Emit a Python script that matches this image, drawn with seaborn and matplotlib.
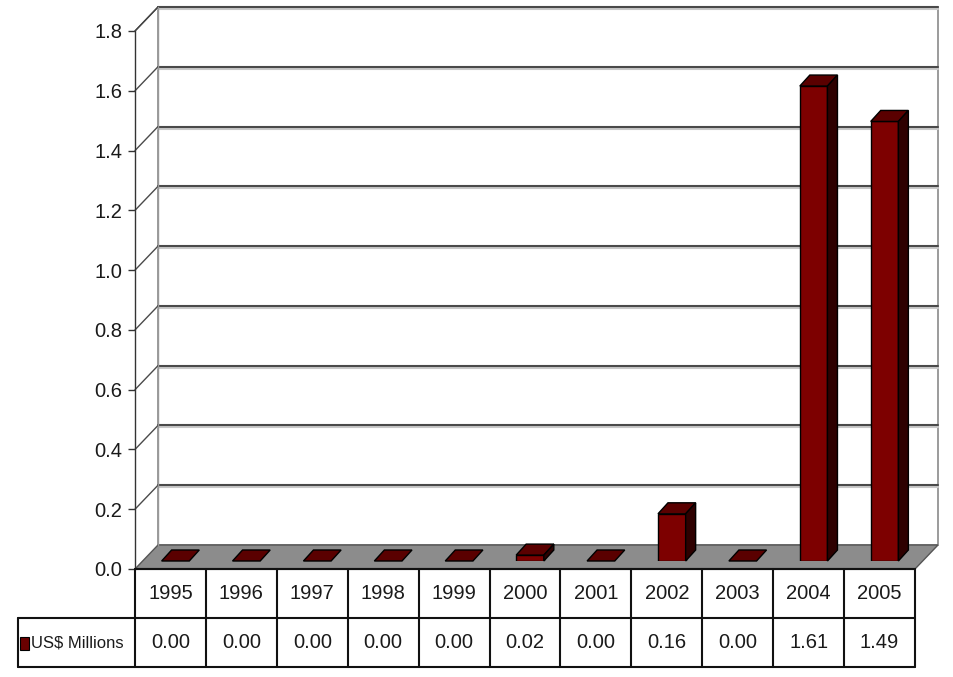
import numpy as np
import matplotlib
matplotlib.use('Agg')
import matplotlib.pyplot as plt
from matplotlib import font_manager
from matplotlib.patches import Polygon, Rectangle
import seaborn as sns

# data
years = ['1995', '1996', '1997', '1998', '1999', '2000', '2001', '2002', '2003', '2004', '2005']
values = [0.00, 0.00, 0.00, 0.00, 0.00, 0.02, 0.00, 0.16, 0.00, 1.61, 1.49]
series_name = 'US$ Millions'
y_ticks = [0.0, 0.2, 0.4, 0.6, 0.8, 1.0, 1.2, 1.4, 1.6, 1.8]

sns.set_style('white')
installed = {f.name for f in font_manager.fontManager.ttflist}
FONT = 'Liberation Sans Narrow' if 'Liberation Sans Narrow' in installed else 'Liberation Sans'
plt.rcParams['font.family'] = [FONT, 'DejaVu Sans']
FS = 14.5

W, H = 954, 677
fig = plt.figure(figsize=(W / 100, H / 100), dpi=100)
fig.patch.set_facecolor('white')


def frac(l, t, r, b):
    return [l / W, 1 - b / H, (r - l) / W, (b - t) / H]


def shift(ax, pts, dx, dy):
    # move data points by a pixel offset (depth of the 3d look)
    disp = ax.transData.transform(pts) + np.array([dx, dy])
    return ax.transData.inverted().transform(disp)


# main axes = front plane of the 3d box
ax = fig.add_axes(frac(135, 31, 915, 569))
ax.set_xlim(-0.5, 10.5)
ax.set_ylim(0, 1.8)
ax.patch.set_alpha(0)
for s in ['top', 'right', 'bottom']:
    ax.spines[s].set_visible(False)
ax.spines['left'].set_color('#333333')
ax.spines['left'].set_linewidth(1.0)
ax.set_xticks([])
ax.set_yticks(y_ticks)
ax.set_yticklabels([f'{t:.1f}' for t in y_ticks], fontsize=FS, color='#1a1a1a')
ax.tick_params(axis='y', length=5, width=1, color='#333333', pad=4, left=True)

DEPTH = (23, 24)
front = np.array([[-0.5, 0], [10.5, 0], [10.5, 1.8], [-0.5, 1.8]])
back = shift(ax, front, *DEPTH)

# floor
floor = np.array([front[0], front[1], back[1], back[0]])
ax.add_patch(Polygon(floor, closed=True, facecolor='#8c8c8c', edgecolor='#555555',
                     lw=1, zorder=1, clip_on=False))
# back wall
ax.add_patch(Polygon(back, closed=True, facecolor='white', edgecolor='#8a8a8a',
                     lw=1.2, zorder=0.5, clip_on=False))
# left wall edges
ax.plot([front[3][0], back[3][0]], [front[3][1], back[3][1]], color='#444444', lw=1, clip_on=False)
ax.plot([back[0][0], back[3][0]], [back[0][1], back[3][1]], color='#999999', lw=1, clip_on=False)

# grid lines on back wall and left wall
for t in y_ticks[1:]:
    p = np.array([[-0.5, t], [10.5, t]])
    b = shift(ax, p, *DEPTH)
    bs = shift(ax, p, DEPTH[0], DEPTH[1] - 2)
    ax.plot(bs[:, 0], bs[:, 1], color='#c8c8c8', lw=1.5, clip_on=False, zorder=0.7)
    ax.plot(b[:, 0], b[:, 1], color='#4a4a4a', lw=1.5, clip_on=False, zorder=0.8)
    ax.plot([p[0][0], b[0][0]], [p[0][1], b[0][1]], color='#4a4a4a', lw=1, clip_on=False, zorder=0.8)

ax.plot([-0.5, 10.5], [0, 0], color='#222222', lw=1.5, clip_on=False, zorder=3)

# bars
ax_bar = fig.add_axes(frac(140, 31, 920, 561))
ax_bar.patch.set_alpha(0)
sns.barplot(x=years, y=values, ax=ax_bar, color='#7d0000', saturation=1, width=0.39,
            edgecolor='black', linewidth=1, zorder=3)
ax_bar.set_xlim(-0.5, 10.5)
ax_bar.set_ylim(0, 530 / 295)
ax_bar.axis('off')

BD = (10, 11)
for p in ax_bar.patches:
    x0, w, h = p.get_x(), p.get_width(), p.get_height()
    top_f = np.array([[x0, h], [x0 + w, h]])
    top_b = shift(ax_bar, top_f, *BD)
    ax_bar.add_patch(Polygon([top_f[0], top_f[1], top_b[1], top_b[0]], closed=True,
                             facecolor='#5a0000', edgecolor='black', lw=1, zorder=4, clip_on=False))
    if h > 0:
        side_f = np.array([[x0 + w, 0], [x0 + w, h]])
        side_b = shift(ax_bar, side_f, *BD)
        ax_bar.add_patch(Polygon([side_f[0], side_b[0], side_b[1], side_f[1]], closed=True,
                                 facecolor='#2e0000', edgecolor='black', lw=1, zorder=4, clip_on=False))

# data table
ax_tab = fig.add_axes(frac(135, 569, 915, 667))
ax_tab.set_xlim(-0.5, 10.5)
ax_tab.set_ylim(0, 2)
ax_tab.axis('off')
px = 780 / 11
LBL = -0.5 - 117 / px
kw = dict(color='#111111', lw=1.5, clip_on=False)
for i in range(len(years) + 1):
    ax_tab.plot([i - 0.5, i - 0.5], [0, 2], **kw)
ax_tab.plot([-0.5, 10.5], [2, 2], **kw)
ax_tab.plot([LBL, 10.5], [1, 1], **kw)
ax_tab.plot([LBL, 10.5], [0, 0], **kw)
ax_tab.plot([LBL, LBL], [0, 1], **kw)
for i, (yr, v) in enumerate(zip(years, values)):
    ax_tab.text(i, 1.5, yr, ha='center', va='center', fontsize=FS, color='#1a1a1a')
    ax_tab.text(i, 0.5, f'{v:.2f}', ha='center', va='center', fontsize=FS, color='#1a1a1a')
ax_tab.add_patch(Rectangle((-0.5 - 115 / px, 0.34), 9 / px, 0.28, facecolor='#6a0000',
                           edgecolor='black', lw=0.8, clip_on=False))
ax_tab.text(-0.5 - 104 / px, 0.48, series_name, ha='left', va='center', fontsize=12, color='#1a1a1a')

fig.savefig('out.png', dpi=100, facecolor='white')
